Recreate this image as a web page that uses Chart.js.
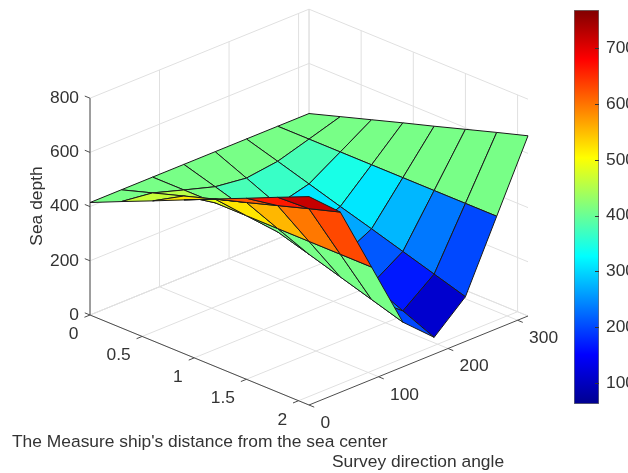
<!DOCTYPE html>
<html>
<head>
<meta charset="utf-8">
<title>Sea depth</title>
<script src="https://cdn.jsdelivr.net/npm/chart.js@4/dist/chart.umd.js"></script>
<style>
  html, body { margin: 0; padding: 0; background: #fff; }
  #wrap { position: relative; width: 628px; height: 473px; overflow: hidden; }
  canvas { position: absolute; top: 0; }
  #surfaceCanvas { left: 0; }
  #barCanvas { left: 540px; }
</style>
</head>
<body>
<div id="wrap">
  <canvas id="surfaceCanvas" width="628" height="473"></canvas>
  <canvas id="barCanvas" width="88" height="473"></canvas>
</div>
<script>
// survey grid
const distances = [0, 0.3, 0.6, 0.9, 1.2, 1.5, 1.8, 2.1];
const angles = [0, 45, 90, 135, 180, 225, 270, 315];

// sea depth, one row per survey angle
const depthAt0 = [415, 466, 516, 567, 618, 668, 719, 769];
const depthAt45 = [415, 451, 487, 523, 558, 594, 630, 665];
const depthAt90 = [415, 415, 415, 415, 415, 415, 415, 415];
const depthAt135 = [415, 380, 344, 308, 273, 237, 201, 165];
const depthAt180 = [415, 365, 314, 264, 213, 163, 112, 62];
const depthAt225 = [415, 380, 344, 308, 273, 237, 201, 165];
const depthAt270 = [415, 415, 415, 415, 415, 415, 415, 415];
const depthAt315 = [415, 451, 487, 523, 558, 594, 630, 665];
const seaDepth = [depthAt0, depthAt45, depthAt90, depthAt135, depthAt180, depthAt225, depthAt270, depthAt315];

// tick labels
const distanceTicks = [0, 0.5, 1, 1.5, 2];
const angleTicks = [0, 100, 200, 300];
const depthTicks = [0, 200, 400, 600, 800];
const colorTicks = [100, 200, 300, 400, 500, 600, 700];

const distanceMax = 2.1;
const angleMax = 315;
const depthMax = 800;
const colorMin = 62;
const colorMax = 769;

const xLabel = "The Measure ship's distance from the sea center";
const yLabel = "Survey direction angle";
const zLabel = "Sea depth";

const jetStops = [
  [0, 0, 0, 143],
  [0.125, 0, 0, 255],
  [0.375, 0, 255, 255],
  [0.625, 255, 255, 0],
  [0.875, 255, 0, 0],
  [1, 128, 0, 0],
];

const TEXT_COLOR = "#333333";
const AXIS_COLOR = "#4d4d4d";
const GRID_COLOR = "#e0e0e0";
const FONT_SIZE = 17.4;
const FONT_FAMILY = "'Liberation Sans', Arial, sans-serif";

// MATLAB like jet, 64 flat levels
const jetColor = (v) => {
  let t = (v - colorMin) / (colorMax - colorMin);
  t = (Math.min(Math.floor(t * 64), 63) + 0.5) / 64;
  for (let k = 1; k < jetStops.length; k++) {
    const a = jetStops[k - 1];
    const b = jetStops[k];
    if (t <= b[0]) {
      const f = (t - a[0]) / (b[0] - a[0]);
      const c = [1, 2, 3].map((n) => Math.round(a[n] + (b[n] - a[n]) * f));
      return `rgb(${c[0]}, ${c[1]}, ${c[2]})`;
    }
  }
};

// orthographic view of the 3D box onto the page
const project = (d, a, z) => ({
  x: 90 + (219 / distanceMax) * d + (219 / angleMax) * a,
  y: 315 + (90 / distanceMax) * d - (89 / angleMax) * a - 0.271 * z,
});

const lineSet = (points, color, width) => ({
  data: points,
  showLine: true,
  fill: false,
  pointRadius: 0,
  borderColor: color,
  borderWidth: width,
  clip: false,
});

// first dataset ends up on top, so axes go before the grid
const guideDatasets = () => {
  const sets = [];
  const grid = (p, q) => sets.push(lineSet([p, q], GRID_COLOR, 1));
  const axis = (p, q) => sets.push(lineSet([p, q], AXIS_COLOR, 1));

  axis(project(0, 0, 0), project(0, 0, depthMax));
  axis(project(0, 0, 0), project(distanceMax, 0, 0));
  axis(project(distanceMax, 0, 0), project(distanceMax, angleMax, 0));
  distanceTicks.forEach((d) => axis(project(d, 0, 0), project(d, -8, 0)));
  angleTicks.forEach((a) => axis(project(distanceMax, a, 0), project(distanceMax + 0.05, a, 0)));
  depthTicks.forEach((z) => axis(project(0, 0, z), project(-0.05, 0, z)));

  // floor and the two back walls
  distanceTicks.forEach((d) => {
    grid(project(d, 0, 0), project(d, angleMax, 0));
    grid(project(d, angleMax, 0), project(d, angleMax, depthMax));
  });
  angleTicks.forEach((a) => {
    grid(project(0, a, 0), project(distanceMax, a, 0));
    grid(project(0, a, 0), project(0, a, depthMax));
  });
  depthTicks.forEach((z) => {
    grid(project(0, 0, z), project(0, angleMax, z));
    grid(project(0, angleMax, z), project(distanceMax, angleMax, z));
  });
  grid(project(0, 0, 0), project(0, angleMax, 0));
  grid(project(0, angleMax, 0), project(distanceMax, angleMax, 0));
  grid(project(0, angleMax, 0), project(0, angleMax, depthMax));
  return sets;
};

const surfaceDatasets = () => {
  const cells = [];
  for (let j = 0; j < angles.length - 1; j++) {
    for (let i = 0; i < distances.length - 1; i++) {
      const corners = [
        project(distances[i], angles[j], seaDepth[j][i]),
        project(distances[i + 1], angles[j], seaDepth[j][i + 1]),
        project(distances[i + 1], angles[j + 1], seaDepth[j + 1][i + 1]),
        project(distances[i], angles[j + 1], seaDepth[j + 1][i]),
      ];
      corners.push(corners[0]);
      cells.push({
        depth: i - j,
        set: {
          data: corners,
          showLine: true,
          fill: "shape",
          backgroundColor: jetColor(seaDepth[j][i]),
          borderColor: "#1a1a1a",
          borderWidth: 1,
          borderJoinStyle: "round",
          pointRadius: 0,
          clip: false,
        },
      });
    }
  }
  // far cells are painted first
  cells.sort((p, q) => p.depth - q.depth);
  return cells.map((c) => c.set);
};

const boxLabels = {
  id: "boxLabels",
  afterDraw(chart) {
    const { ctx, scales } = chart;
    const at = (p) => ({ x: scales.x.getPixelForValue(p.x), y: scales.y.getPixelForValue(p.y) });
    ctx.save();
    ctx.font = `${FONT_SIZE}px ${FONT_FAMILY}`;
    ctx.fillStyle = TEXT_COLOR;
    ctx.textBaseline = "middle";

    ctx.textAlign = "right";
    depthTicks.forEach((z) => {
      const p = at(project(0, 0, z));
      ctx.fillText(String(z), p.x - 11, p.y);
    });
    distanceTicks.forEach((d) => {
      const p = at(project(d, 0, 0));
      ctx.fillText(String(d), p.x - 11.5, p.y + 19);
    });
    ctx.textAlign = "left";
    angleTicks.forEach((a) => {
      const p = at(project(distanceMax, a, 0));
      ctx.fillText(String(a), p.x + 11.5, p.y + 18);
    });

    ctx.fillText(xLabel, 12, 442);
    ctx.fillText(yLabel, 332, 462);

    ctx.translate(37, 206);
    ctx.rotate(-Math.PI / 2);
    ctx.textAlign = "center";
    ctx.fillText(zLabel, 0, 0);
    ctx.restore();
  },
};

new Chart(document.getElementById("surfaceCanvas").getContext("2d"), {
  type: "scatter",
  data: { datasets: [...surfaceDatasets().reverse(), ...guideDatasets()] },
  options: {
    responsive: false,
    animation: false,
    layout: { padding: 0 },
    events: [],
    plugins: { legend: { display: false }, tooltip: { enabled: false } },
    scales: {
      x: { type: "linear", min: 0, max: 628, display: false },
      y: { type: "linear", min: 0, max: 473, reverse: true, display: false },
    },
  },
  plugins: [boxLabels],
});

// colorbar: one floating bar with the jet ramp
const jetGradient = (context) => {
  const { ctx, chartArea } = context.chart;
  if (!chartArea) return "#000";
  const g = ctx.createLinearGradient(0, chartArea.bottom, 0, chartArea.top);
  jetStops.forEach((s) => g.addColorStop(s[0], `rgb(${s[1]}, ${s[2]}, ${s[3]})`));
  return g;
};

const barTicks = {
  id: "barTicks",
  afterDraw(chart) {
    const { ctx, chartArea, scales } = chart;
    ctx.save();
    ctx.strokeStyle = "#333333";
    ctx.lineWidth = 1;
    colorTicks.forEach((v) => {
      const y = Math.round(scales.y.getPixelForValue(v)) + 0.5;
      ctx.beginPath();
      ctx.moveTo(chartArea.right - 4, y);
      ctx.lineTo(chartArea.right, y);
      ctx.stroke();
    });
    ctx.restore();
  },
};

new Chart(document.getElementById("barCanvas").getContext("2d"), {
  type: "bar",
  data: {
    labels: ["depth"],
    datasets: [
      {
        data: [[colorMin, colorMax]],
        backgroundColor: jetGradient,
        borderColor: "#6e6e6e",
        borderWidth: 1,
        borderSkipped: false,
        barPercentage: 1,
        categoryPercentage: 1,
      },
    ],
  },
  options: {
    responsive: false,
    animation: false,
    events: [],
    layout: { padding: { left: 34, top: 10, bottom: 69, right: 0 } },
    plugins: { legend: { display: false }, tooltip: { enabled: false } },
    scales: {
      x: { display: false },
      y: {
        position: "right",
        min: colorMin,
        max: colorMax,
        afterBuildTicks: (axis) => {
          axis.ticks = colorTicks.map((v) => ({ value: v }));
        },
        afterFit: (axis) => {
          axis.width = 29;
          axis.paddingTop = 0;
          axis.paddingBottom = 0;
        },
        grid: { display: false, drawTicks: false },
        border: { display: false },
        ticks: {
          color: TEXT_COLOR,
          padding: 7,
          font: { family: FONT_FAMILY, size: FONT_SIZE },
        },
      },
    },
  },
  plugins: [barTicks],
});
</script>
</body>
</html>
